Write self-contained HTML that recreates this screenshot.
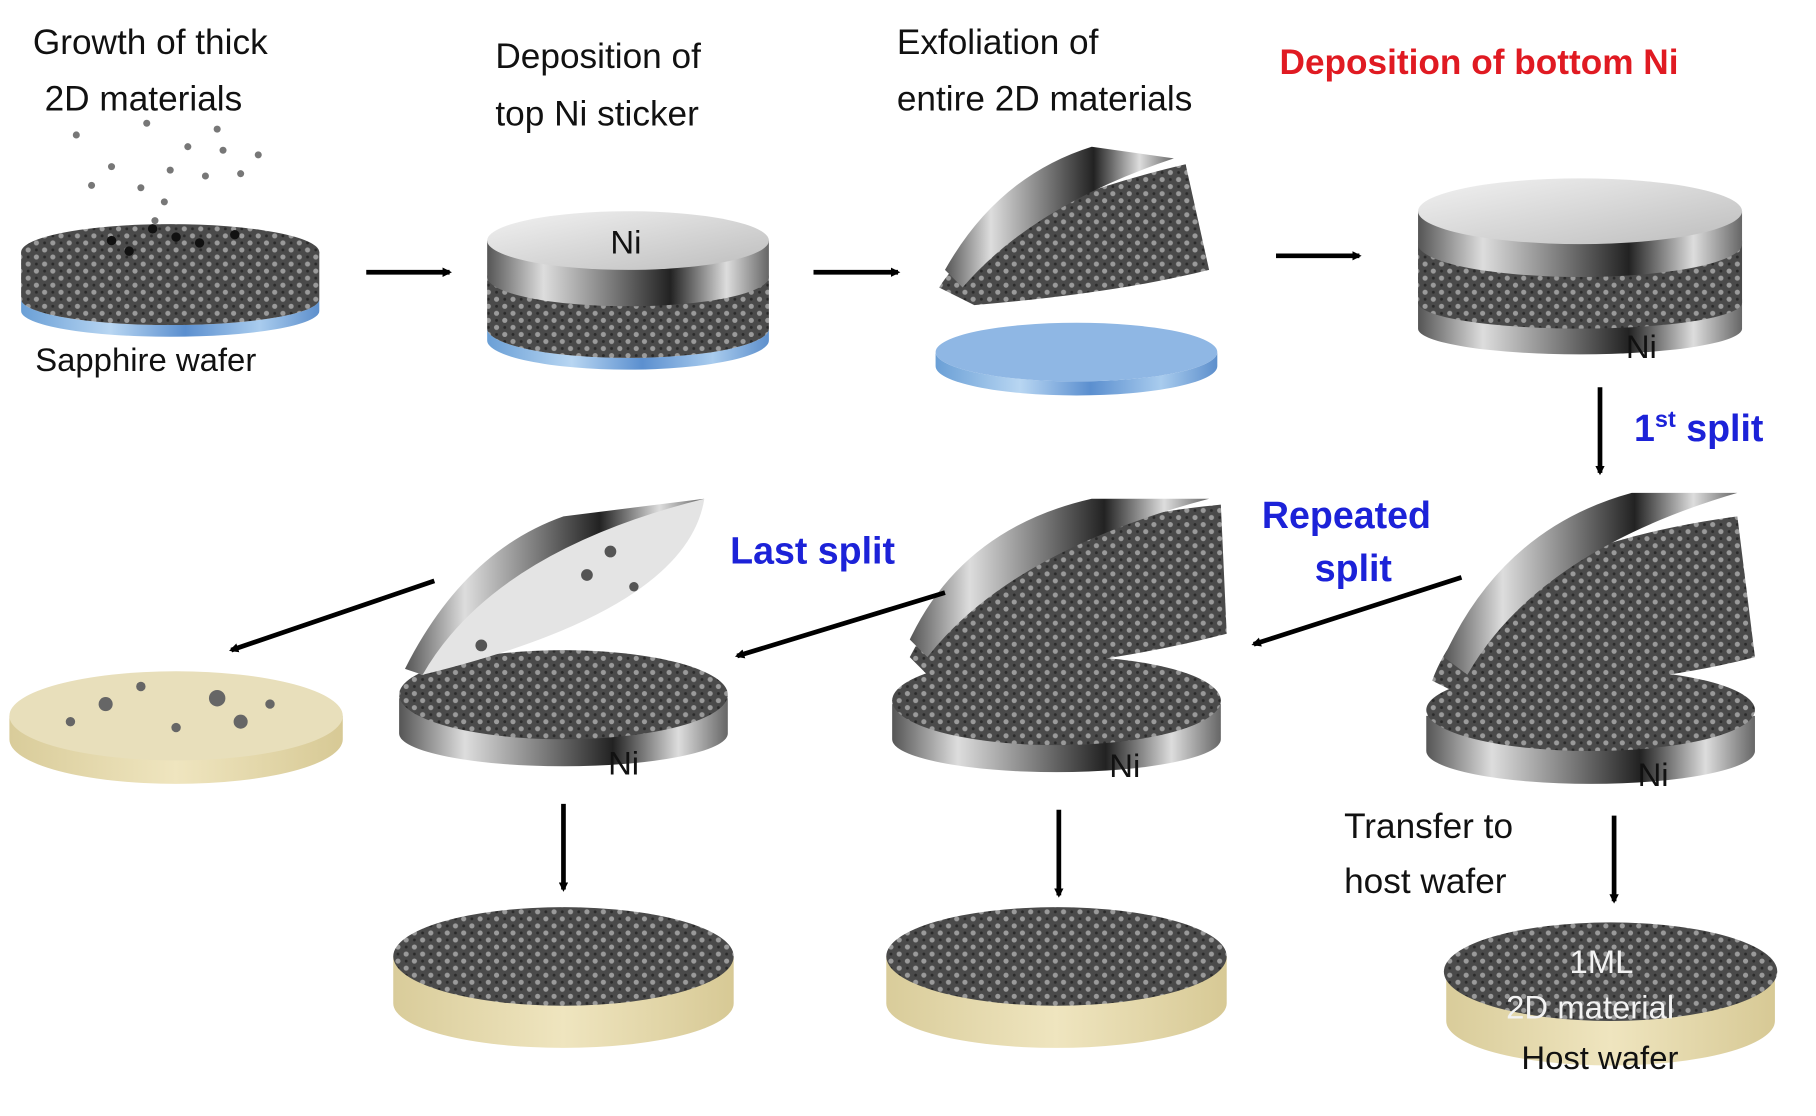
<!DOCTYPE html>
<html><head><meta charset="utf-8">
<style>
html,body{margin:0;padding:0;background:#fff;}
svg{display:block;}
text{font-family:"Liberation Sans",sans-serif;}
</style></head>
<body>
<svg width="1816" height="1116" viewBox="0 0 1547 951" preserveAspectRatio="none" xmlns="http://www.w3.org/2000/svg">
<defs>
<pattern id="hex" width="14" height="12" patternUnits="userSpaceOnUse">
<rect width="14" height="12" fill="#4a4a4a"/>
<circle cx="3" cy="3" r="2.2" fill="#9a9a9a"/>
<circle cx="10" cy="9" r="2.2" fill="#9a9a9a"/>
<circle cx="10" cy="3" r="1.2" fill="#2a2a2a"/>
<circle cx="3" cy="9" r="1.2" fill="#2a2a2a"/>
</pattern>
<linearGradient id="metal" x1="0" x2="1">
<stop offset="0" stop-color="#555"/><stop offset="0.2" stop-color="#ddd"/><stop offset="0.45" stop-color="#777"/><stop offset="0.65" stop-color="#222"/><stop offset="0.85" stop-color="#ddd"/><stop offset="1" stop-color="#666"/>
</linearGradient>
<linearGradient id="nitop" x1="0" x2="1" y1="0" y2="1">
<stop offset="0" stop-color="#f2f2f2"/><stop offset="1" stop-color="#bdbdbd"/>
</linearGradient>
<linearGradient id="blue" x1="0" x2="1">
<stop offset="0" stop-color="#6a9fd6"/><stop offset="0.3" stop-color="#b8d6f2"/><stop offset="0.55" stop-color="#5b8fcf"/><stop offset="0.8" stop-color="#a9ccee"/><stop offset="1" stop-color="#5d8fcc"/>
</linearGradient>
<linearGradient id="beige" x1="0" x2="1">
<stop offset="0" stop-color="#d9cc9a"/><stop offset="0.5" stop-color="#efe5bf"/><stop offset="1" stop-color="#d7c995"/>
</linearGradient>
<marker id="ah" markerWidth="8" markerHeight="8" refX="6" refY="4" orient="auto" markerUnits="userSpaceOnUse" viewBox="0 0 8 8">
<path d="M0,0 L8,4 L0,8 z" fill="#000"/>
</marker>
</defs>

<g font-size="30" fill="#111">
<text x="28" y="46">Growth of thick</text>
<text x="38" y="94">2D materials</text>
<text x="422" y="58">Deposition of</text>
<text x="422" y="107">top Ni sticker</text>
<text x="764" y="46">Exfoliation of</text>
<text x="764" y="94">entire 2D materials</text>
<text x="30" y="316" font-size="28">Sapphire wafer</text>
<text x="1145" y="714">Transfer to</text>
<text x="1145" y="761">host wafer</text>
</g>
<text x="1090" y="63" font-size="30" font-weight="bold" fill="#e01a22">Deposition of bottom Ni</text>
<g font-size="32" font-weight="bold" fill="#1c22d8">
<text x="1392" y="376">1<tspan font-size="20" dy="-12">st</tspan><tspan dy="12"> split</tspan></text>
<text x="1075" y="450">Repeated</text>
<text x="1120" y="495">split</text>
<text x="622" y="480">Last split</text>
</g>

<g fill="#777">
<circle cx="65" cy="115" r="3"/><circle cx="125" cy="105" r="3"/><circle cx="185" cy="110" r="3"/><circle cx="160" cy="125" r="3"/><circle cx="220" cy="132" r="3"/><circle cx="95" cy="142" r="3"/><circle cx="145" cy="145" r="3"/><circle cx="175" cy="150" r="3"/><circle cx="78" cy="158" r="3"/><circle cx="205" cy="148" r="3"/><circle cx="120" cy="160" r="3"/><circle cx="140" cy="172" r="3"/><circle cx="132" cy="188" r="3"/><circle cx="190" cy="128" r="3"/>
</g>

<!-- Disk1 -->
<path d="M18,255 A127,22 0 0 0 272,255 L272,265 A127,22 0 0 1 18,265 z" fill="url(#blue)"/>
<path d="M18,215 L18,255 A127,22 0 0 0 272,255 L272,215 z" fill="url(#hex)"/>
<ellipse cx="145" cy="215" rx="127" ry="24" fill="url(#hex)"/>
<g fill="#111"><circle cx="95" cy="205" r="4"/><circle cx="130" cy="195" r="4"/><circle cx="170" cy="207" r="4"/><circle cx="200" cy="200" r="4"/><circle cx="110" cy="214" r="4"/><circle cx="150" cy="202" r="4"/></g>

<!-- Disk2 -->
<path d="M415,280 A120,25 0 0 0 655,280 L655,290 A120,25 0 0 1 415,290 z" fill="url(#blue)"/>
<path d="M415,235 L415,280 A120,25 0 0 0 655,280 L655,235 z" fill="url(#hex)"/>
<path d="M415,205 L415,236 A120,25 0 0 0 655,236 L655,205 z" fill="url(#metal)"/>
<ellipse cx="535" cy="205" rx="120" ry="25" fill="url(#nitop)"/>
<text x="520" y="216" font-size="28" fill="#111">Ni</text>

<!-- Disk3 -->
<path d="M797,300 A120,25 0 0 0 1037,300 L1037,312 A120,25 0 0 1 797,312 z" fill="url(#blue)"/>
<ellipse cx="917" cy="300" rx="120" ry="25" fill="#8fb7e4"/>
<path d="M800,245 Q840,180 1010,140 L1030,230 Q950,250 830,260 z" fill="url(#hex)"/>
<path d="M805,230 Q850,150 930,125 L1000,135 Q880,175 820,245 z" fill="url(#metal)"/>

<!-- Disk4 -->
<path d="M1208,255 L1208,280 A138,22 0 0 0 1484,280 L1484,255 z" fill="url(#metal)"/>
<path d="M1208,205 L1208,258 A138,22 0 0 0 1484,258 L1484,205 z" fill="url(#hex)"/>
<path d="M1208,180 L1208,208 A138,28 0 0 0 1484,208 L1484,180 z" fill="url(#metal)"/>
<ellipse cx="1346" cy="180" rx="138" ry="28" fill="url(#nitop)"/>
<text x="1385" y="305" font-size="28" fill="#111">Ni</text>

<!-- Row2 right -->
<path d="M1215,610 L1215,640 A140,28 0 0 0 1495,640 L1495,610 z" fill="url(#metal)"/>
<ellipse cx="1355" cy="605" rx="140" ry="35" fill="url(#hex)"/>
<path d="M1220,580 Q1260,470 1480,440 L1495,560 Q1400,585 1240,590 z" fill="url(#hex)"/>
<path d="M1230,560 Q1280,450 1390,420 L1480,420 Q1310,470 1250,575 z" fill="url(#metal)"/>
<text x="1395" y="670" font-size="28" fill="#111">Ni</text>

<!-- Row2 middle -->
<path d="M760,600 L760,630 A140,28 0 0 0 1040,630 L1040,600 z" fill="url(#metal)"/>
<ellipse cx="900" cy="597" rx="140" ry="38" fill="url(#hex)"/>
<path d="M775,560 Q830,450 1040,430 L1045,540 Q930,570 790,575 z" fill="url(#hex)"/>
<path d="M775,545 Q820,450 930,425 L1030,425 Q860,470 790,560 z" fill="url(#metal)"/>
<text x="945" y="662" font-size="28" fill="#111">Ni</text>

<!-- Row2 left -->
<path d="M340,595 L340,625 A140,28 0 0 0 620,625 L620,595 z" fill="url(#metal)"/>
<ellipse cx="480" cy="592" rx="140" ry="38" fill="url(#hex)"/>
<path d="M345,570 Q400,450 600,425 Q585,520 360,575 z" fill="#e4e4e4"/>
<path d="M345,570 Q395,470 480,440 L600,425 Q420,470 360,575 z" fill="url(#metal)"/>
<g fill="#555"><circle cx="500" cy="490" r="5"/><circle cx="520" cy="470" r="5"/><circle cx="410" cy="550" r="5"/><circle cx="540" cy="500" r="4"/></g>
<text x="518" y="660" font-size="28" fill="#111">Ni</text>

<!-- beige left disk -->
<path d="M8,610 L8,630 A142,38 0 0 0 292,630 L292,610 z" fill="url(#beige)"/>
<ellipse cx="150" cy="610" rx="142" ry="38" fill="#e8dfbb"/>
<g fill="#666"><circle cx="90" cy="600" r="6"/><circle cx="120" cy="585" r="4"/><circle cx="185" cy="595" r="7"/><circle cx="205" cy="615" r="6"/><circle cx="150" cy="620" r="4"/><circle cx="60" cy="615" r="4"/><circle cx="230" cy="600" r="4"/></g>

<!-- bottom disks -->
<path d="M335,815 L335,855 A145,38 0 0 0 625,855 L625,815 z" fill="url(#beige)"/>
<ellipse cx="480" cy="815" rx="145" ry="42" fill="url(#hex)"/>
<path d="M755,815 L755,855 A145,38 0 0 0 1045,855 L1045,815 z" fill="url(#beige)"/>
<ellipse cx="900" cy="815" rx="145" ry="42" fill="url(#hex)"/>
<path d="M1232,830 L1232,870 A140,38 0 0 0 1512,870 L1512,830 z" fill="url(#beige)"/>
<ellipse cx="1372" cy="828" rx="142" ry="42" fill="url(#hex)"/>
<text x="1337" y="829" font-size="28" fill="#f2f2f2">1ML</text>
<text x="1283" y="868" font-size="28" fill="#f2f2f2">2D material</text>
<text x="1296" y="911" font-size="28" fill="#111">Host wafer</text>

<g stroke="#000" stroke-width="4" marker-end="url(#ah)">
<line x1="312" y1="232" x2="383" y2="232"/>
<line x1="693" y1="232" x2="765" y2="232"/>
<line x1="1087" y1="218" x2="1158" y2="218"/>
<line x1="1363" y1="330" x2="1363" y2="403"/>
<line x1="1245" y1="492" x2="1068" y2="549"/>
<line x1="805" y1="505" x2="628" y2="559"/>
<line x1="370" y1="495" x2="197" y2="554"/>
<line x1="480" y1="685" x2="480" y2="758"/>
<line x1="902" y1="690" x2="902" y2="763"/>
<line x1="1375" y1="695" x2="1375" y2="768"/>
</g>
</svg>
</body></html>
